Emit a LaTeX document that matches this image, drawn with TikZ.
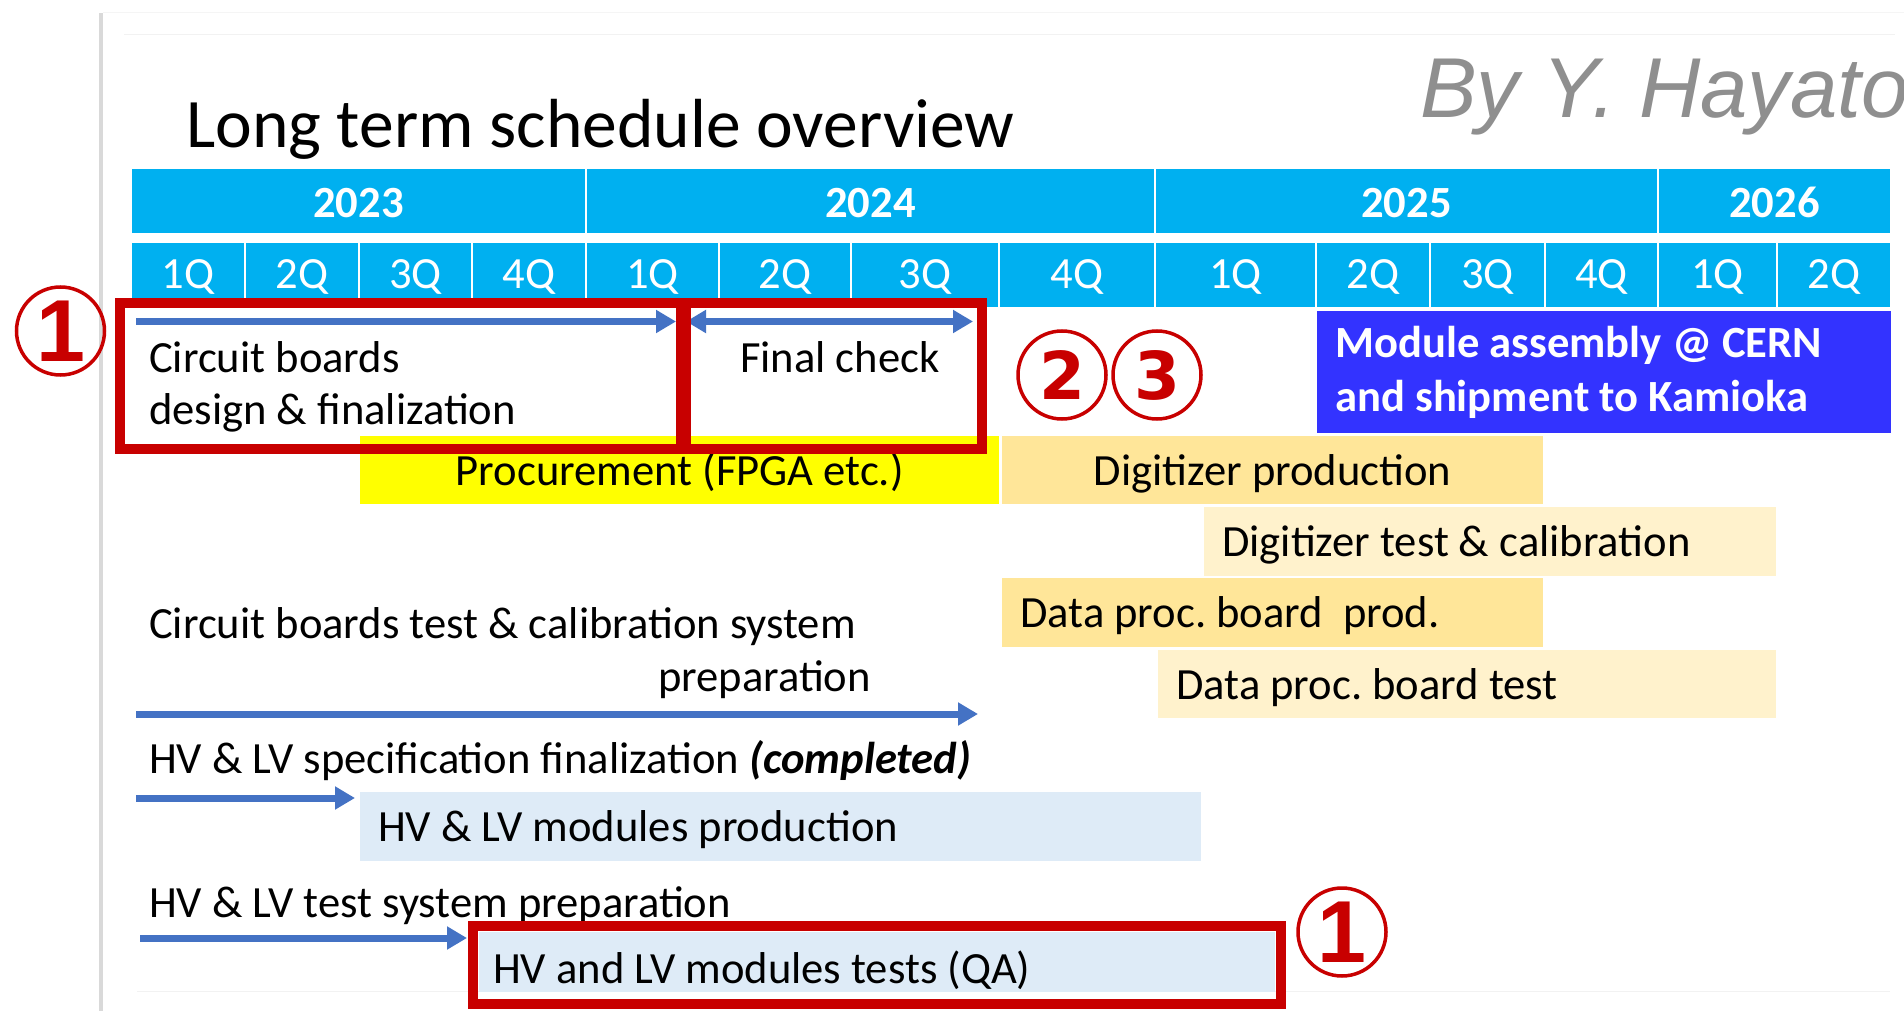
\documentclass[tikz,border=0pt]{standalone}
\usepackage{fontspec}
\setmainfont{Carlito}
\newfontfamily\byfont{Liberation Sans}
\newfontfamily\digitfont{DejaVu Sans}
\usepackage{tikz}
\usetikzlibrary{shapes, arrows.meta, positioning}
\frenchspacing

\definecolor{hdrcyan}{HTML}{00B0F0}
\definecolor{procyellow}{HTML}{FFFF00}
\definecolor{digiorange}{HTML}{FFE699}
\definecolor{testorange}{HTML}{FFF2CC}
\definecolor{moduleblue}{HTML}{3333FF}
\definecolor{hvblue}{HTML}{DEEBF7}
\definecolor{hired}{HTML}{C80000}
\definecolor{planblue}{HTML}{4472C4}
\definecolor{bygray}{HTML}{8F8F8F}

\begin{document}
\begin{tikzpicture}[x=1pt, y=-1pt,
        hdr/.style={draw=white, line width=2.5pt, fill=hdrcyan, text=white, inner sep=0pt,
            minimum height=66pt, text height=26pt, text depth=0pt, font=\fontsize{44.6}{52}\selectfont},
        bar/.style={anchor=north west, inner xsep=18pt, inner ysep=0pt, text height=38pt,
            text depth=8pt, font=\fontsize{44.6}{52}\selectfont},
        lbl/.style={anchor=base west, inner sep=0pt, font=\fontsize{44.6}{52}\selectfont},
        hilite/.style={draw=hired, line width=10pt},
        plan/.style={draw=planblue, line width=7pt, -{Triangle[length=20pt, width=22pt]}},
        circnum/.style={circle, draw=hired, line width=3.5pt, minimum size=88pt, inner sep=0pt,
            text=hired, font=\digitfont\bfseries\fontsize{66}{66}\selectfont}]
    \useasboundingbox (0,0) rectangle (1904,1011);
    \fill[white] (0,0) rectangle (1904,1011);

    % slide frame
    \fill[gray!30] (99,13) rectangle (103,1011);
    \draw[gray!8, line width=1pt] (103,13) -- (1904,13);
    \draw[gray!10, line width=1pt] (124,35) -- (1895,35);
    \draw[gray!10, line width=1pt] (137,991) -- (1890,991);

    % title
    \node[anchor=base west, inner sep=0pt, font=\fontsize{69.5}{80}\selectfont] (title) at (186,148) {Long term schedule overview};
    \node[anchor=base west, inner sep=0pt, text=bygray, font=\byfont\itshape\fontsize{85}{100}\selectfont] (author) at (1420,118) {By Y. Hayato};

    % years
    \node[hdr, text height=34pt, minimum width=455pt] (y23) at (358.5,201) {\textbf{2023}};
    \node[hdr, text height=34pt, minimum width=569pt] (y24) at (870.5,201) {\textbf{2024}};
    \node[hdr, text height=34pt, minimum width=503pt] (y25) at (1406.5,201) {\textbf{2025}};
    \node[hdr, text height=34pt, minimum width=233pt] (y26) at (1774.5,201) {\textbf{2026}};

    % quarters
    \node[hdr, minimum width=114pt] (q23a) at (188,275) {1Q};
    \node[hdr, minimum width=114pt] (q23b) at (302,275) {2Q};
    \node[hdr, minimum width=113pt] (q23c) at (415.5,275) {3Q};
    \node[hdr, minimum width=114pt] (q23d) at (529,275) {4Q};
    \node[hdr, minimum width=133pt] (q24a) at (652.5,275) {1Q};
    \node[hdr, minimum width=132pt] (q24b) at (785,275) {2Q};
    \node[hdr, minimum width=148pt] (q24c) at (925,275) {3Q};
    \node[hdr, minimum width=156pt] (q24d) at (1077,275) {4Q};
    \node[hdr, minimum width=161pt] (q25a) at (1235.5,275) {1Q};
    \node[hdr, minimum width=114pt] (q25b) at (1373,275) {2Q};
    \node[hdr, minimum width=115pt] (q25c) at (1487.5,275) {3Q};
    \node[hdr, minimum width=113pt] (q25d) at (1601.5,275) {4Q};
    \node[hdr, minimum width=119pt] (q26a) at (1717.5,275) {1Q};
    \node[hdr, minimum width=114pt] (q26b) at (1834,275) {2Q};

    % bars
    \node[bar, fill=moduleblue, text=white, text height=, text depth=, minimum height=122pt,
        text width=538pt, align=flush left, font=\fontsize{44.6}{54}\selectfont\bfseries] (module) at (1317,311)
        {Module assembly @ CERN\\and shipment to Kamioka};
    \node[bar, fill=procyellow, minimum height=68pt, text width=603pt, align=flush center] (proc) at (360,436) {Procurement (FPGA etc.)};
    \node[bar, fill=digiorange, minimum height=68pt, text width=505pt, align=flush center] (digiProd) at (1002,436) {Digitizer production};
    \node[bar, fill=testorange, minimum height=69pt, text width=536pt, align=flush left] (digiTest) at (1204,507) {Digitizer test \& calibration};
    \node[bar, fill=digiorange, minimum height=69pt, text width=505pt, align=flush left] (dataProd) at (1002,578) {Data proc. board~ prod.};
    \node[bar, fill=testorange, minimum height=68pt, text width=582pt, align=flush left] (dataTest) at (1158,650) {Data proc. board test};
    \node[bar, fill=hvblue, minimum height=69pt, text width=805pt, align=flush left] (hvProd) at (360,792) {HV \& LV modules production};
    \node[bar, fill=hvblue, inner xsep=14pt, text height=50pt, minimum height=60pt, text width=768pt, align=flush left] (hvTest) at (479,932) {HV and LV modules tests (QA)};

    % labels
    \node[lbl] (cbDesign) at (149,372) {Circuit boards};
    \node[lbl] (cbDesignB) at (149,424) {design \& finalization};
    \node[lbl] (finalCheck) at (740,372) {Final check};
    \node[lbl] (cbTest) at (149,638) {Circuit boards test \& calibration system};
    \node[lbl, anchor=base east] (cbTestB) at (871,691) {preparation};
    \node[lbl] (hvSpec) at (149,773) {HV \& LV specification finalization \textbf{\textit{(completed)}}};
    \node[lbl] (hvTestSys) at (149,917) {HV \& LV test system preparation};

    % arrows
    \coordinate (cbDesignS) at (136,321.5);
    \coordinate (cbDesignE) at (676,321.5);
    \coordinate (finalS) at (686,321.5);
    \coordinate (finalE) at (973,321.5);
    \coordinate (cbTestS) at (136,714);
    \coordinate (cbTestE) at (978,714);
    \coordinate (hvSpecS) at (136,798);
    \coordinate (hvSpecE) at (355,798);
    \coordinate (hvTestS) at (140,938);
    \coordinate (hvTestE) at (467,938);
    \draw[plan] (cbDesignS) -- (cbDesignE);
    \draw[plan, {Triangle[length=20pt, width=22pt]}-{Triangle[length=20pt, width=22pt]}] (finalS) -- (finalE);
    \draw[plan] (cbTestS) -- (cbTestE);
    \draw[plan] (hvSpecS) -- (hvSpecE);
    \draw[plan] (hvTestS) -- (hvTestE);

    % highlights
    \draw[hilite] (120,303) rectangle (681,449);
    \draw[hilite] (686,303) rectangle (982,449);
    \draw[hilite] (473,926) rectangle (1281,1004);

    \node[circnum, font=\byfont\bfseries\fontsize{88}{88}\selectfont] (numA) at (60.5,331) {1};
    \node[circnum] (numB) at (1062,375) {2};
    \node[circnum] (numC) at (1157,375) {3};
    \node[circnum, font=\byfont\bfseries\fontsize{88}{88}\selectfont] (numD) at (1342,932) {1};
\end{tikzpicture}
\end{document}
